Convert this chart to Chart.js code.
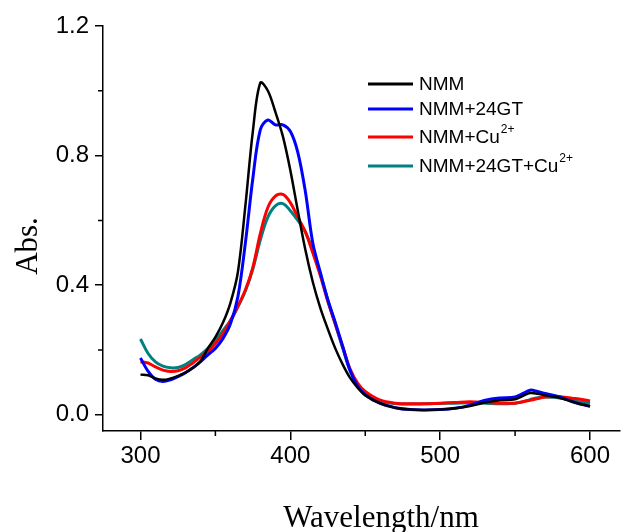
<!DOCTYPE html>
<html>
<head>
<meta charset="utf-8">
<script src="https://cdn.jsdelivr.net/npm/chart.js@4/dist/chart.umd.min.js"></script>
<style>
  body { margin: 0; background: #fff; }
  canvas { display: block; }
</style>
</head>
<body>
<canvas id="myChart" width="637" height="532"></canvas>
<script>
// wavelengths (nm) shared by all spectra
const wavelengths = [300, 305, 310, 315, 320, 325, 330, 335, 340, 345, 350, 355, 360, 365, 370, 375, 380, 385, 390, 395,
    400, 405, 410, 415, 420, 425, 430, 435, 440, 445, 450, 460, 470, 480, 490, 500, 510, 520, 530, 540,
    550, 555, 560, 565, 570, 580, 590, 600];

const nmm = [0.124, 0.122, 0.112, 0.108, 0.112, 0.12, 0.13, 0.145, 0.165, 0.205, 0.24, 0.284, 0.345, 0.44, 0.645, 0.875, 1.025, 1.0, 0.935, 0.86,
    0.755, 0.63, 0.51, 0.41, 0.33, 0.265, 0.205, 0.155, 0.113, 0.083, 0.06, 0.035, 0.022, 0.016, 0.015, 0.016, 0.02, 0.027, 0.038, 0.045,
    0.048, 0.058, 0.067, 0.065, 0.06, 0.052, 0.038, 0.026];

const nmm24gt = [0.175, 0.135, 0.11, 0.103, 0.108, 0.118, 0.13, 0.145, 0.163, 0.185, 0.205, 0.235, 0.28, 0.364, 0.53, 0.73, 0.88, 0.91, 0.895, 0.895,
    0.875, 0.81, 0.69, 0.53, 0.44, 0.355, 0.285, 0.21, 0.135, 0.088, 0.062, 0.035, 0.022, 0.016, 0.015, 0.016, 0.02, 0.03, 0.045, 0.052,
    0.055, 0.065, 0.076, 0.072, 0.066, 0.055, 0.038, 0.026];

const nmmCu = [0.164, 0.16, 0.148, 0.138, 0.134, 0.136, 0.145, 0.16, 0.178, 0.195, 0.22, 0.25, 0.29, 0.335, 0.385, 0.455, 0.56, 0.64, 0.675, 0.68,
    0.655, 0.61, 0.565, 0.50, 0.43, 0.35, 0.28, 0.21, 0.14, 0.097, 0.072, 0.045, 0.036, 0.034, 0.034, 0.036, 0.038, 0.04, 0.038, 0.036,
    0.036, 0.04, 0.045, 0.05, 0.055, 0.056, 0.05, 0.043];

const nmm24gtCu = [0.234, 0.19, 0.163, 0.15, 0.145, 0.146, 0.155, 0.17, 0.185, 0.205, 0.23, 0.26, 0.29, 0.333, 0.382, 0.45, 0.54, 0.61, 0.645, 0.652,
    0.63, 0.60, 0.565, 0.505, 0.435, 0.355, 0.28, 0.205, 0.135, 0.092, 0.067, 0.042, 0.035, 0.033, 0.034, 0.035, 0.036, 0.037, 0.036, 0.034,
    0.036, 0.04, 0.047, 0.053, 0.055, 0.052, 0.043, 0.035];

const xTicks = [300, 400, 500, 600];
const xMinor = [350, 450, 550];
const yTicks = [0.0, 0.4, 0.8, 1.2];
const yMinor = [0.2, 0.6, 1.0];

// legend entries: [main text, superscript, colour]
const legendItems = [
    ['NMM', '', '#000000'],
    ['NMM+24GT', '', '#0000ff'],
    ['NMM+Cu', '2+', '#ff0000'],
    ['NMM+24GT+Cu', '2+', '#008080']
];

function toPoints(arr) {
    return arr.map((v, i) => ({x: wavelengths[i], y: v}));
}

function line(label, data, color, width) {
    return {
        label: label,
        data: toPoints(data),
        borderColor: color,
        borderWidth: width,
        pointRadius: 0,
        fill: false,
        tension: 0.35
    };
}

const extras = {
    id: 'extras',
    afterDraw(chart) {
        const ctx = chart.ctx;
        const xs = chart.scales.x, ys = chart.scales.y;
        const area = chart.chartArea;
        ctx.save();
        ctx.strokeStyle = '#000';
        ctx.lineWidth = 1.5;
        // minor ticks
        ctx.beginPath();
        xMinor.forEach(v => {
            const px = xs.getPixelForValue(v);
            ctx.moveTo(px, area.bottom);
            ctx.lineTo(px, area.bottom + 5);
        });
        yMinor.forEach(v => {
            const py = ys.getPixelForValue(v);
            ctx.moveTo(area.left, py);
            ctx.lineTo(area.left - 5, py);
        });
        ctx.stroke();

        // axis titles
        ctx.fillStyle = '#000';
        ctx.font = '31px "Liberation Serif", "Times New Roman", serif';
        ctx.textAlign = 'center';
        ctx.textBaseline = 'alphabetic';
        ctx.fillText('Wavelength/nm', 381, 527);
        ctx.save();
        ctx.translate(37, 246);
        ctx.rotate(-Math.PI / 2);
        ctx.fillText('Abs.', 0, 0);
        ctx.restore();

        // legend
        const rows = [84, 109, 137, 166];
        legendItems.forEach((item, i) => {
            const y = rows[i];
            ctx.strokeStyle = item[2];
            ctx.lineWidth = 3;
            ctx.beginPath();
            ctx.moveTo(368, y);
            ctx.lineTo(413, y);
            ctx.stroke();
            ctx.fillStyle = '#000';
            ctx.textAlign = 'left';
            ctx.textBaseline = 'middle';
            ctx.font = '19px "Liberation Sans", Arial, sans-serif';
            ctx.fillText(item[0], 419, y + 1);
            if (item[1]) {
                const w = ctx.measureText(item[0]).width;
                ctx.font = '12px "Liberation Sans", Arial, sans-serif';
                ctx.fillText(item[1], 419 + w + 1, y - 7);
            }
        });
        ctx.restore();
    }
};

const ctx = document.getElementById('myChart');
const myChart = new Chart(ctx, {
    type: 'line',
    data: {
        datasets: [
            line('NMM', nmm, '#000000', 2.5),
            line('NMM+24GT', nmm24gt, '#0000ff', 3),
            line('NMM+Cu2+', nmmCu, '#ff0000', 3),
            line('NMM+24GT+Cu2+', nmm24gtCu, '#008080', 3)
        ]
    },
    options: {
        responsive: false,
        animation: false,
        layout: {padding: {left: 0, right: 17, top: 26, bottom: 0}},
        plugins: {
            legend: {display: false},
            tooltip: {enabled: false}
        },
        scales: {
            x: {
                type: 'linear',
                min: 275,
                max: 620,
                afterBuildTicks: s => { s.ticks = xTicks.map(v => ({value: v})); },
                afterFit: s => { s.height = 101; },
                grid: {drawOnChartArea: false, drawTicks: true, tickLength: 9, tickColor: '#000', lineWidth: 1.5},
                border: {display: true, color: '#000', width: 1.5},
                ticks: {
                    color: '#000',
                    padding: 2,
                    maxRotation: 0,
                    font: {family: '"Liberation Sans", Arial, sans-serif', size: 24},
                    callback: v => String(v)
                }
            },
            y: {
                type: 'linear',
                min: -0.05,
                max: 1.2,
                afterBuildTicks: s => { s.ticks = yTicks.map(v => ({value: v})); },
                afterFit: s => { s.width = 103; },
                grid: {drawOnChartArea: false, drawTicks: true, tickLength: 8, tickColor: '#000', lineWidth: 1.5},
                border: {display: true, color: '#000', width: 1.5},
                ticks: {
                    color: '#000',
                    padding: 6,
                    font: {family: '"Liberation Sans", Arial, sans-serif', size: 24},
                    callback: v => v.toFixed(1)
                }
            }
        }
    },
    plugins: [extras]
});
</script>
</body>
</html>
